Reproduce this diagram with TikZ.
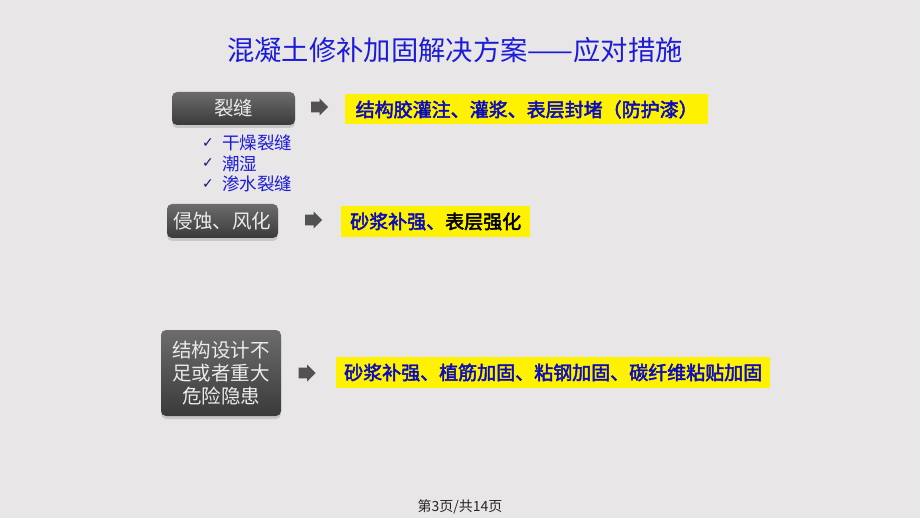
\documentclass[tikz,border=0pt]{standalone}
\usepackage{fontspec}
\setmainfont{Noto Sans CJK SC}
\newfontfamily\cjkbold[FakeBold=2.5]{Noto Sans CJK SC}
\newfontfamily\symfont{DejaVu Sans}
\usetikzlibrary{positioning, shapes.arrows, shadows}
\usepackage{xcolor}
\definecolor{slidebg}{RGB}{232,230,230}
\definecolor{titleblue}{RGB}{28,28,215}
\definecolor{solblue}{RGB}{12,12,185}
\definecolor{checkblue}{RGB}{20,20,130}

\begin{document}
\begin{tikzpicture}[x=1pt,y=-1pt]
    \tikzstyle{problem}=[rounded corners=5pt, inner sep=0pt, align=center,
        top color={rgb,255:red,108;green,108;blue,108},
        bottom color={rgb,255:red,58;green,58;blue,58},
        text=black!8, font=\fontsize{19.5}{23}\selectfont,
        drop shadow={shadow xshift=0pt, shadow yshift=-3pt, opacity=0.3}]
    \tikzstyle{pointer}=[single arrow, fill=black!68, inner sep=5pt,
        minimum height=17pt, minimum width=17pt,
        single arrow head extend=3pt, single arrow head indent=0pt]
    \tikzstyle{solution}=[fill=yellow, text=solblue, inner sep=0pt,
        font=\cjkbold\fontsize{19}{23}\selectfont, minimum height=30pt]
    \tikzstyle{item}=[anchor=west, inner sep=0pt, text=titleblue,
        font=\fontsize{17.5}{20}\selectfont]

    % slide background
    \fill[slidebg] (0,0) rectangle (920,518);
    \useasboundingbox (0,0) rectangle (920,518);

    \node[text=titleblue, font=\fontsize{27.3}{30}\selectfont] (title) at (455,50)
        {混凝土修补加固解决方案——应对措施};

    % the three problems
    \node[problem, minimum width=123pt, minimum height=33pt] (P-1) at (233.5,108.5) {裂缝};
    \node[problem, minimum width=111pt, minimum height=34pt] (P-2) at (222.5,221) {侵蚀、风化};
    \node[problem, minimum width=120pt, minimum height=86pt] (P-3) at (221,373)
        {结构设计不\\足或者重大\\危险隐患};

    % the kinds of crack
    \foreach \name / \y in {干燥裂缝/143, 潮湿/163.5, 渗水裂缝/184}
        \node[item] (C-\y) at (222,\y) {\name};
    \foreach \y in {143, 163.5, 184}
        \node[text=checkblue, font=\symfont\bfseries\fontsize{14}{14}\selectfont] at (208,\y) {✓};

    % block arrows
    \foreach \name / \x / \y in {1/317/107, 2/311/220, 3/304.5/373}
        \node[pointer] (A-\name) at (\x,\y) {};

    % the answers
    \node[solution, anchor=west, minimum width=363pt] (S-1) at (345,109.5)
        {结构胶灌注、灌浆、表层封堵（防护漆）};
    \node[solution, anchor=west, minimum width=189pt, minimum height=31pt] (S-2) at (341,221.5)
        {砂浆补强、\textcolor{black}{表层强化}};
    \node[solution, anchor=west, minimum width=434pt, minimum height=31pt] (S-3) at (336,372.5)
        {砂浆补强、植筋加固、粘钢加固、碳纤维粘贴加固};

    \node[text=black!85, font=\fontsize{14}{16}\selectfont] (page) at (460,507) {第3页/共14页};
\end{tikzpicture}
\end{document}
